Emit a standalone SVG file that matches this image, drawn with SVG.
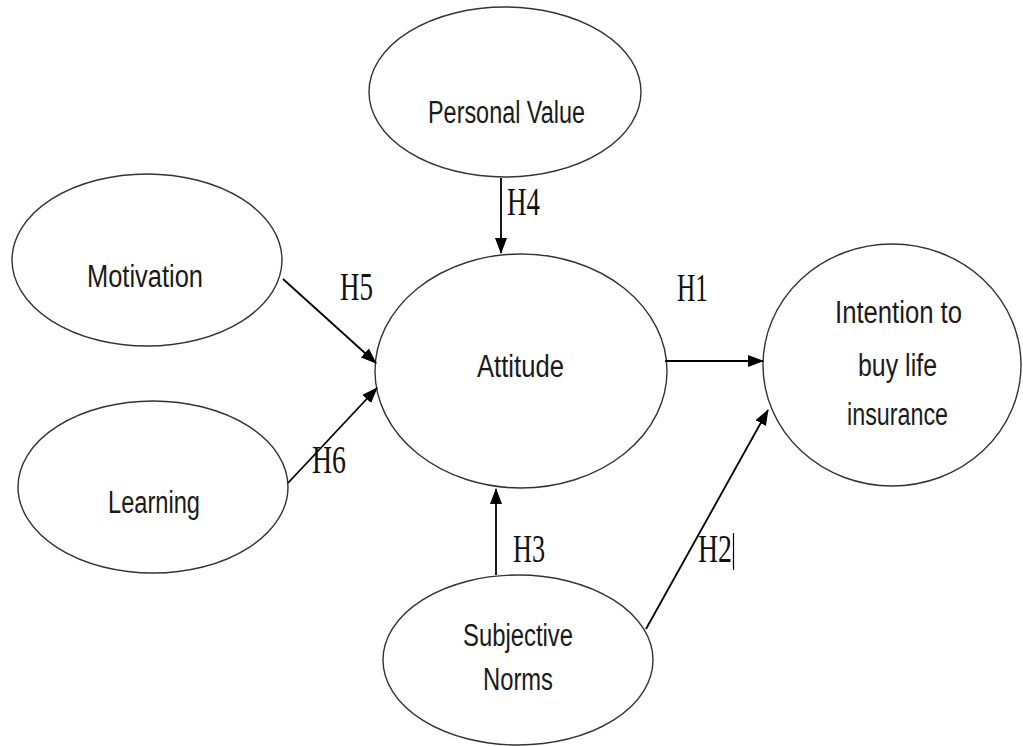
<svg xmlns="http://www.w3.org/2000/svg" width="1023" height="746" viewBox="0 0 1023 746">
<style>
.node ellipse{fill:#fff;stroke:#333;stroke-width:1.4}
.lbl{font-family:"Liberation Sans",Arial,sans-serif;font-size:31px;fill:#1a1a1a;text-anchor:start}
.h{font-family:"Liberation Serif","Times New Roman",serif;font-size:40px;fill:#111}
.conn line{stroke:#000;stroke-width:1.8}
</style>
<defs>
<marker id="arr" markerUnits="userSpaceOnUse" markerWidth="16" markerHeight="12" refX="15" refY="6" orient="auto">
<path d="M0,0 L16,6 L0,12 Z" fill="#000"/>
</marker>
</defs>
<rect width="1023" height="746" fill="#fff"/>
<g id="personal-value" class="node">
<ellipse cx="505" cy="92" rx="136" ry="85"/>
<text class="lbl" x="428" y="123" textLength="157" lengthAdjust="spacingAndGlyphs">Personal Value</text>
</g>
<g id="motivation" class="node">
<ellipse cx="147" cy="260" rx="135" ry="86"/>
<text class="lbl" x="87" y="287" textLength="116" lengthAdjust="spacingAndGlyphs">Motivation</text>
</g>
<g id="learning" class="node">
<ellipse cx="153" cy="487" rx="135" ry="86"/>
<text class="lbl" x="108" y="513" textLength="92" lengthAdjust="spacingAndGlyphs">Learning</text>
</g>
<g id="attitude" class="node">
<ellipse cx="521" cy="371" rx="146" ry="117"/>
<text class="lbl" x="477" y="377" textLength="87" lengthAdjust="spacingAndGlyphs">Attitude</text>
</g>
<g id="intention" class="node">
<ellipse cx="892" cy="365" rx="129" ry="121"/>
<text class="lbl" x="835" y="323" textLength="127" lengthAdjust="spacingAndGlyphs">Intention to</text>
<text class="lbl" x="858" y="376" textLength="79" lengthAdjust="spacingAndGlyphs">buy life</text>
<text class="lbl" x="847" y="425" textLength="101" lengthAdjust="spacingAndGlyphs">insurance</text>
</g>
<g id="subjective-norms" class="node">
<ellipse cx="518" cy="660" rx="135" ry="85"/>
<text class="lbl" x="463" y="646" textLength="110" lengthAdjust="spacingAndGlyphs">Subjective</text>
<text class="lbl" x="483" y="690" textLength="70" lengthAdjust="spacingAndGlyphs">Norms</text>
</g>
<g id="connectors" class="conn">
<line x1="501" y1="178" x2="501" y2="253" marker-end="url(#arr)"/>
<line x1="283" y1="279" x2="376" y2="363" marker-end="url(#arr)"/>
<line x1="288" y1="483" x2="377" y2="388" marker-end="url(#arr)"/>
<line x1="665" y1="361" x2="763" y2="361" marker-end="url(#arr)"/>
<line x1="496" y1="575" x2="496" y2="489" marker-end="url(#arr)"/>
<line x1="646" y1="629" x2="768" y2="410" marker-end="url(#arr)"/>
<text class="h" x="507" y="215" textLength="33" lengthAdjust="spacingAndGlyphs">H4</text>
<text class="h" x="340" y="300" textLength="33" lengthAdjust="spacingAndGlyphs">H5</text>
<text class="h" x="677" y="301" textLength="31" lengthAdjust="spacingAndGlyphs">H1</text>
<text class="h" x="312" y="473" textLength="34" lengthAdjust="spacingAndGlyphs">H6</text>
<text class="h" x="513" y="562" textLength="32" lengthAdjust="spacingAndGlyphs">H3</text>
<text class="h" x="698" y="562" textLength="34" lengthAdjust="spacingAndGlyphs">H2</text>
<line x1="733.5" y1="533" x2="733.5" y2="570" style="stroke-width:1.2"/>
</g>
</svg>
